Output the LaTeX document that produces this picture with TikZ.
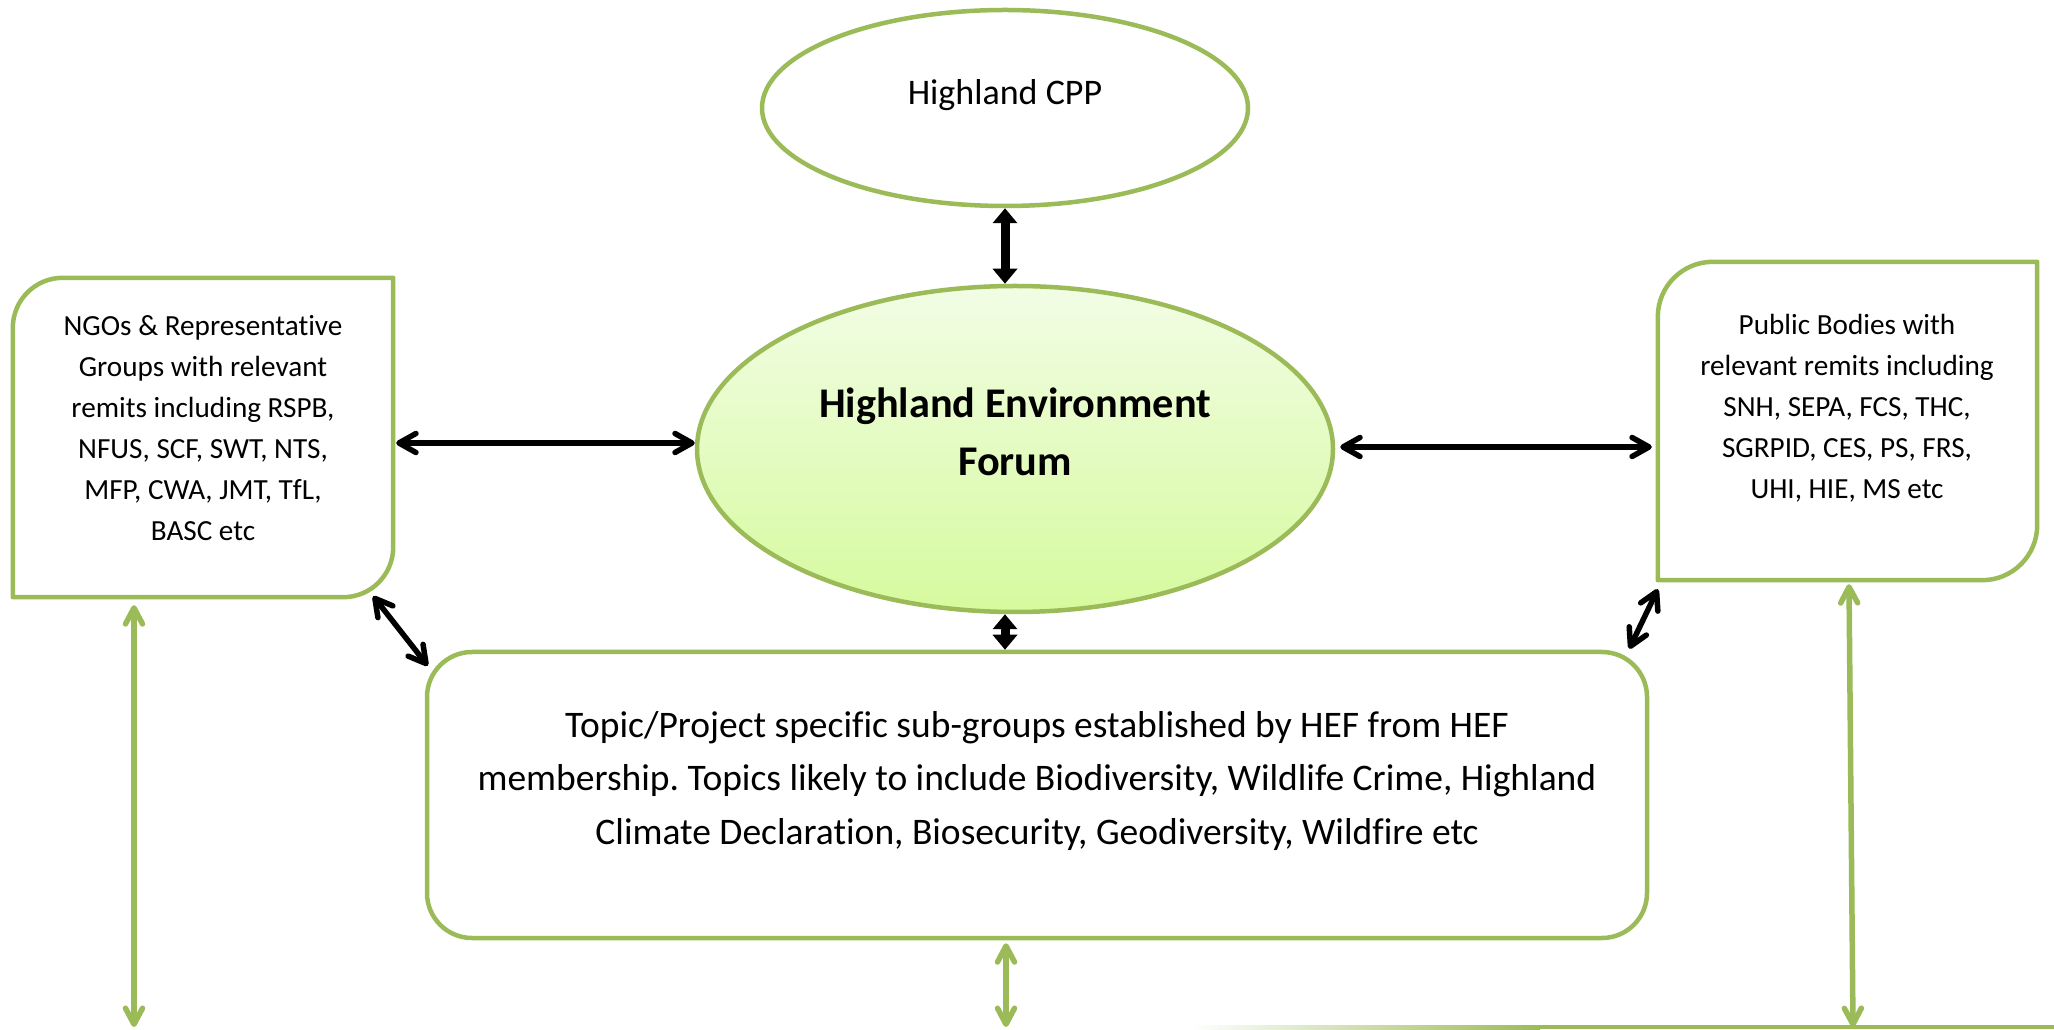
\documentclass[tikz,border=0pt]{standalone}
\usepackage{fontspec}
\setmainfont{Carlito}[Ligatures=NoCommon]
\usetikzlibrary{arrows.meta,shapes.geometric,calc}
\definecolor{hefgreen}{RGB}{155,187,89}
\definecolor{heftop}{RGB}{242,253,229}
\definecolor{hefbot}{RGB}{214,250,158}
\frenchspacing
\begin{document}
\begin{tikzpicture}[x=1pt,y=1pt,
  boxline/.style={draw=hefgreen,line width=4.5pt,line join=round},
  thinarrow/.style={draw=black,line width=5.5pt,{Straight Barb[length=17pt,width=19pt,round]}-{Straight Barb[length=17pt,width=19pt,round]}},
  thickarrow/.style={draw=black,line width=9pt,{Triangle[length=15pt,width=24pt]}-{Triangle[length=15pt,width=24pt]}},
  greenarrow/.style={draw=hefgreen,line width=5.5pt,{Straight Barb[length=16pt,width=17pt,round]}-{Straight Barb[length=16pt,width=17pt,round]}},
  smalltext/.style={font=\fontsize{29.2}{41}\selectfont,align=center,inner sep=0pt},
  cpptextstyle/.style={font=\fontsize{36}{53.5}\selectfont,align=center,inner sep=0pt},
  midtext/.style={font=\fontsize{37.5}{53.5}\selectfont,align=center,inner sep=0pt},
  bigtext/.style={font=\fontsize{42.3}{58}\selectfont\bfseries,align=center,inner sep=0pt}
]
\useasboundingbox (0,0) rectangle (2054,1029);
\fill[white] (0,0) rectangle (2054,1029);

% ellipses
\node[ellipse,draw=hefgreen,line width=4.5pt,minimum width=486pt,minimum height=196pt,inner sep=0pt] (cpp) at (1005,921) {};
\node[cpptextstyle] (cpptext) at (1005,934) {Highland CPP};

\node[ellipse,draw=hefgreen,line width=4.5pt,top color=heftop,bottom color=hefbot,minimum width=636pt,minimum height=326pt,inner sep=0pt] (hef) at (1015,580) {};
\node[bigtext] (heftext) at (1015,597) {Highland Environment\\Forum};

% side boxes
\node[minimum width=380pt,minimum height=319pt,inner sep=0pt] (ngo) at (203,591.5) {};
\draw[boxline] (ngo.north east) -- ([xshift=50pt]ngo.north west) arc[start angle=90,end angle=180,radius=50pt]
  -- (ngo.south west) -- ([xshift=-50pt]ngo.south east) arc[start angle=270,end angle=360,radius=50pt] -- cycle;
\node[smalltext] (ngotext) at (203,601) {NGOs \& Representative\\Groups with relevant\\remits including RSPB,\\NFUS, SCF, SWT, NTS,\\MFP, CWA, JMT, TfL,\\BASC etc};

\node[minimum width=379pt,minimum height=318pt,inner sep=0pt] (pub) at (1847.5,608) {};
\draw[boxline] (pub.north east) -- ([xshift=55pt]pub.north west) arc[start angle=90,end angle=180,radius=55pt]
  -- (pub.south west) -- ([xshift=-55pt]pub.south east) arc[start angle=270,end angle=360,radius=55pt] -- cycle;
\node[smalltext] (pubtext) at (1847,621) {Public Bodies with\\relevant remits including\\SNH, SEPA, FCS, THC,\\SGRPID, CES, PS, FRS,\\UHI, HIE, MS etc};

% sub-groups box
\node[draw=hefgreen,line width=4.5pt,rounded corners=45pt,minimum width=1220pt,minimum height=286pt,inner sep=0pt] (sub) at (1037,234) {};
\node[midtext] (subtext) at (1037,248) {Topic/Project specific sub-groups established by HEF from HEF\\membership. Topics likely to include Biodiversity, Wildlife Crime, Highland\\Climate Declaration, Biosecurity, Geodiversity, Wildfire etc};

% black connectors
\draw[thickarrow] (cpp.south) -- (cpp.south |- hef.north);
\draw[thickarrow] (hef.south -| cpp.south) -- (sub.north -| cpp.south);
\draw[thinarrow] ([xshift=3pt,yshift=-5.5pt]ngo.east) -- ([yshift=-5.5pt]ngo.east -| hef.west);
\draw[thinarrow] ([xshift=5pt,yshift=2pt]hef.east) -- ([xshift=-6pt,yshift=2pt]hef.east -| pub.west);
\draw[thinarrow] ([xshift=-20pt,yshift=1pt]ngo.south east) -- ([xshift=3pt,yshift=-16pt]sub.north west);
\draw[thinarrow] ([yshift=-9pt]pub.south west) -- ([xshift=-20pt,yshift=1pt]sub.north east);

% green connectors
\coordinate (gl) at (134,2);
\coordinate (gm) at (1006,2);
\coordinate (gr) at (1853,2);
\draw[greenarrow] ([yshift=-8pt]ngo.south -| gl) -- (gl);
\draw[greenarrow] ([yshift=-3pt]sub.south -| gm) -- (gm);
\draw[greenarrow] ($(pub.south)+(1.5,-4)$) -- (gr);

% bottom line (top edge of a box below)
\shade[left color=white,right color=hefgreen] (1190,0) rectangle (1540,4);
\fill[hefgreen] (1540,0) rectangle (2054,4);
\end{tikzpicture}
\end{document}
